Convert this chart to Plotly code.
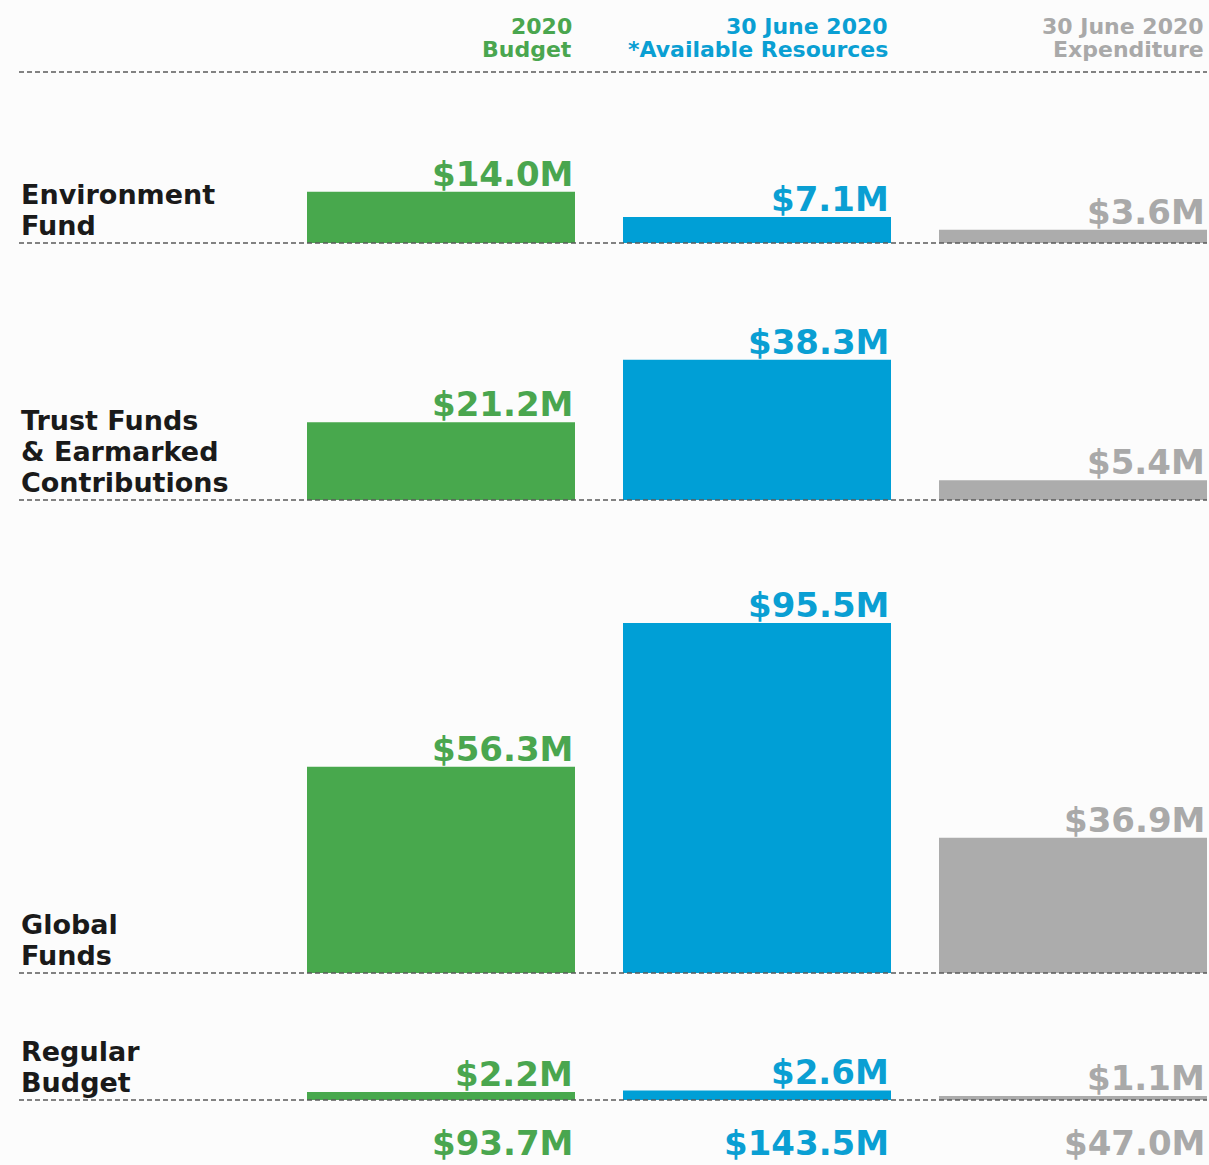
import plotly.graph_objects as go

# ---- data ----
rows = ["Environment<br>Fund", "Trust Funds<br>& Earmarked<br>Contributions", "Global<br>Funds", "Regular<br>Budget"]
columns = ["2020<br>Budget", "30 June 2020<br>*Available Resources", "30 June 2020<br>Expenditure"]
budget = [14.0, 21.2, 56.3, 2.2]
available = [7.1, 38.3, 95.5, 2.6]
expenditure = [3.6, 5.4, 36.9, 1.1]

# ---- style / layout ----
W, H = 1209, 1165
colors = ["#48a84d", "#009fd6", "#acacac"]
text_colors = ["#4aa64f", "#0a9fd3", "#a9a9a9"]
bg = "#fcfcfc"
K = 3.665  # px per $M
bar_w = 268 / 316
row_tops = [72, 243, 500, 973]
row_bases = [243, 500, 973, 1100]
FONT = "DejaVu Sans"
VAL_SIZE = 34
CAT_SIZE = 27
HDR_SIZE = 22

series = [budget, available, expenditure]
fig = go.Figure()
layout_axes = {}
annotations = []
for r in range(len(rows)):
    yname = "y" if r == 0 else f"y{r+1}"
    yaxis_key = "yaxis" if r == 0 else f"yaxis{r+1}"
    vals = [s[r] for s in series]
    fig.add_trace(go.Bar(x=[0, 1, 2], y=vals, width=bar_w, marker_color=colors,
                         marker_line_width=0, xaxis="x", yaxis=yname, showlegend=False,
                         hoverinfo="skip"))
    t, b = row_tops[r], row_bases[r]
    layout_axes[yaxis_key] = dict(domain=[1 - b / H, 1 - t / H], range=[0, (b - t) / K],
                                  visible=False, fixedrange=True)
    # value labels
    for c, v in enumerate(vals):
        annotations.append(dict(x=c + bar_w / 2, y=v, xref="x", yref=yname,
                                text=f"${v:.1f}M", showarrow=False, xanchor="right",
                                yanchor="bottom", yshift=-4,
                                font=dict(family=FONT, size=VAL_SIZE, color=text_colors[c], weight="bold")))
    # row label, one annotation per line for tight spacing
    lines = rows[r].split("<br>")
    for k, line in enumerate(reversed(lines)):
        annotations.append(dict(x=19 / W, y=0, xref="paper", yref=yname, text=line,
                                showarrow=False, xanchor="left", yanchor="bottom", align="left",
                                yshift=0 + 31 * k,
                                font=dict(family=FONT, size=CAT_SIZE, color="#1a1a1a", weight="bold")))

# headers and totals
for c, col in enumerate(columns):
    for k, line in enumerate(col.split("<br>")):
        annotations.append(dict(x=c + bar_w / 2 - 0.004, y=1 - (26 + 23 * k) / H, xref="x", yref="paper",
                                text=line, showarrow=False, xanchor="right", yanchor="middle",
                                font=dict(family=FONT, size=HDR_SIZE, color=text_colors[c], weight="bold")))
    total = sum(series[c])
    annotations.append(dict(x=c + bar_w / 2, y=0, xref="x", yref="paper",
                            text=f"${total:.1f}M", showarrow=False, xanchor="right",
                            yanchor="bottom",
                            font=dict(family=FONT, size=VAL_SIZE, color=text_colors[c], weight="bold")))

shapes = []
for p in [72] + row_bases:
    shapes.append(dict(type="line", xref="paper", yref="paper", x0=19 / W, x1=1207 / W,
                       y0=1 - p / H, y1=1 - p / H, layer="above",
                       line=dict(color="#5a5a5a", width=1.5, dash="5px,3px")))

x0 = (0 - 441) / 316
x1 = (W - 441) / 316
fig.update_layout(
    width=W, height=H, margin=dict(l=0, r=0, t=0, b=0),
    paper_bgcolor=bg, plot_bgcolor=bg,
    xaxis=dict(domain=[0, 1], range=[x0, x1], visible=False, fixedrange=True),
    annotations=annotations, shapes=shapes, **layout_axes,
)

fig.write_html("out.html", config={"displayModeBar": False},
               post_script="document.body.style.margin='0';")
